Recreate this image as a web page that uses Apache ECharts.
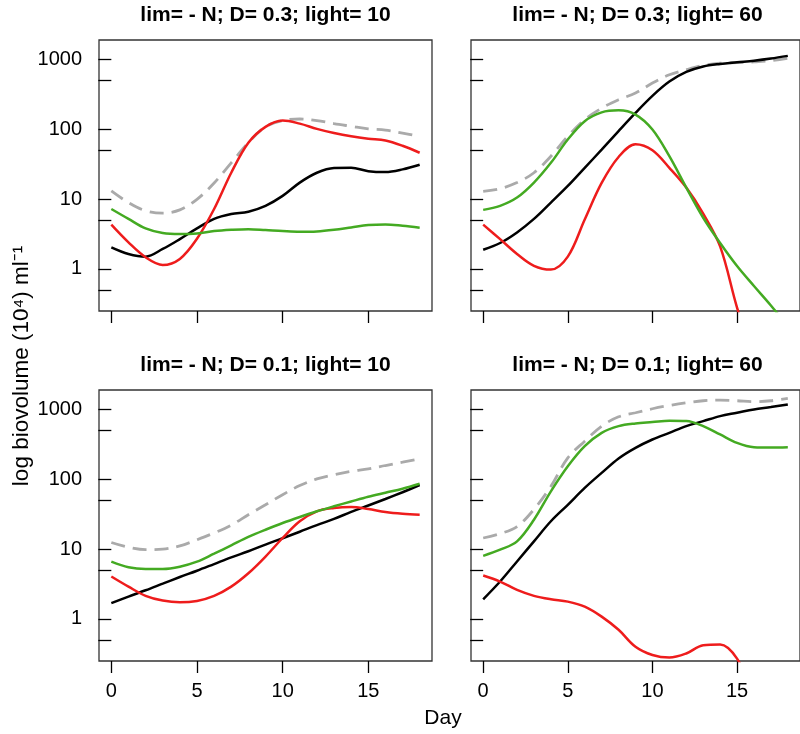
<!DOCTYPE html>
<html>
<head>
<meta charset="utf-8">
<script src="https://cdn.jsdelivr.net/npm/echarts@6/dist/echarts.min.js"></script>
<style>html,body{margin:0;padding:0;background:#fff}#c{width:800px;height:734px}</style>
</head>
<body>
<div id="c"></div>
<script>
// ---- data ----
const days = [0,1,2,3,4,5,6,7,8,9,10,11,12,13,14,15,16,17,18];
const panelTitles = [
  "lim= - N; D= 0.3; light= 10",
  "lim= - N; D= 0.3; light= 60",
  "lim= - N; D= 0.1; light= 10",
  "lim= - N; D= 0.1; light= 60"
];
const yTicks = [0.5,1,5,10,50,100,500,1000];
const yLabels = [1,10,100,1000];
const xTicks = [0,5,10,15];

// panel 1: D=0.3, light=10
const p1_total = [13.1,8.9,6.8,6.3,7.0,9.9,17,33,64,108,133,140,133,120,110,101,97,88,79];
const p1_black = [2.04,1.64,1.5,1.93,2.67,3.8,5.2,6.1,6.6,8.0,11.1,17.2,23.8,27.8,28,25.1,24.4,26.6,31];
const p1_red   = [4.3,2.4,1.47,1.14,1.39,2.7,7.2,23.8,64,108,133,120,101,88,79,73,69,58,46];
const p1_green = [7.2,5.2,3.8,3.26,3.15,3.22,3.48,3.63,3.71,3.6,3.48,3.4,3.44,3.63,3.92,4.24,4.33,4.14,3.88];
// panel 2: D=0.3, light=60
const p2_total = [12.9,14.1,17.2,23.8,41,79,137,200,264,329,457,600,710,816,879,898,918,955,1035];
const p2_black = [1.88,2.35,3.33,5.2,8.9,15.4,28,51,94,171,300,480,660,790,860,908,955,1024,1120];
const p2_red   = [4.3,2.67,1.64,1.11,0.98,1.5,5.1,17,40,61,50,28,14.6,6.2,2.1,0.28,0.05,null,null];
const p2_green = [7.0,8.0,10.5,17.2,33,71,130,174,186,162,99,41,14.6,5.4,2.35,1.1,0.57,0.30,0.15];
// panel 3: D=0.1, light=10
const p3_total = [12.4,10.6,9.8,10,11.1,13.6,17,22,31,43,60,81,101,116,130,140,157,175,195];
const p3_black = [1.68,2.09,2.57,3.2,3.98,4.9,6.1,7.6,9.3,11.6,14.3,17.7,22,27,34,42,52,65,82];
const p3_red   = [4.05,2.9,2.14,1.83,1.73,1.81,2.14,2.9,4.5,7.8,14.4,25,34.7,38.7,40,37.4,33.9,32,31];
const p3_green = [6.6,5.5,5.2,5.2,5.6,6.6,8.6,11.3,14.9,18.9,23.6,28.8,34.7,41,48,56,64,73,86];
// panel 4: D=0.1, light=60
const p4_total = [14.4,16.6,21,37,79,202,350,575,782,893,1019,1137,1242,1327,1356,1327,1285,1327,1433];
const p4_black = [1.91,3.43,6.65,12.9,25,43,75,123,198,281,370,461,575,677,800,893,997,1077,1175];
const p4_red   = [4.19,3.43,2.6,2.14,1.91,1.77,1.5,1.08,0.70,0.40,0.305,0.28,0.32,0.42,0.43,0.27,0.08,null,null];
const p4_green = [8.0,9.8,12.9,26.3,67,153,297,461,575,628,656,686,679,575,437,331,287,284,287];

const panels = [
  {total:p1_total, black:p1_black, red:p1_red, green:p1_green},
  {total:p2_total, black:p2_black, red:p2_red, green:p2_green},
  {total:p3_total, black:p3_black, red:p3_red, green:p3_green},
  {total:p4_total, black:p4_black, red:p4_red, green:p4_green}
];

// ---- layout ----
const FONT = "'Liberation Sans', Arial, sans-serif";
const gridPos = [
  {left:99, top:40, width:333, height:271},
  {left:471, top:40, width:333, height:271},
  {left:99, top:390, width:333, height:271},
  {left:471, top:390, width:333, height:271}
];
const YMIN = 0.25, YMAX = 1890, XMIN = -0.72, XMAX = 18.72;

const grids = gridPos.map(g => Object.assign({show:true, borderColor:'#333', borderWidth:1.3, backgroundColor:'transparent', containLabel:false}, g));

const xAxes = gridPos.map((g,i) => ({
  type:'value', gridIndex:i, min:XMIN, max:XMAX,
  axisLine:{show:false},
  splitLine:{show:false},
  axisTick:{show:true, inside:false, length:12, lineStyle:{color:'#000', width:1.3}, customValues:xTicks},
  axisLabel:{show:i>=2, customValues:xTicks, margin:20, color:'#000', fontSize:20, fontFamily:FONT, formatter:v=>String(Math.round(v))}
}));
const yAxes = gridPos.map((g,i) => ({
  type:'log', gridIndex:i, min:YMIN, max:YMAX, logBase:10,
  axisLine:{show:false},
  splitLine:{show:false},
  axisTick:{show:true, inside:false, length:13, lineStyle:{color:'#000', width:1.3}, customValues:yTicks},
  axisLabel:{show:i%2===0, customValues:yLabels, margin:17, color:'#000', fontSize:20, fontFamily:FONT, formatter:v=>String(Math.round(v))}
}));

function pairs(arr){ return days.map((d,k)=>[d, arr[k]]).filter(p=>p[1]!=null); }

const SM = 0.35;
const series = [];
panels.forEach((p,i)=>{
  series.push({type:'line', xAxisIndex:i, yAxisIndex:i, data:pairs(p.total), smooth:SM, showSymbol:false, clip:true, silent:true,
    lineStyle:{color:'#aaaaaa', width:2.8, type:[14,8]}});
  series.push({type:'line', xAxisIndex:i, yAxisIndex:i, data:pairs(p.black), smooth:SM, showSymbol:false, clip:true, silent:true,
    lineStyle:{color:'#000000', width:2.5}});
  series.push({type:'line', xAxisIndex:i, yAxisIndex:i, data:pairs(p.red), smooth:SM, showSymbol:false, clip:true, silent:true,
    lineStyle:{color:'#ee1c1c', width:2.5}});
  series.push({type:'line', xAxisIndex:i, yAxisIndex:i, data:pairs(p.green), smooth:SM, showSymbol:false, clip:true, silent:true,
    lineStyle:{color:'#44aa22', width:2.5}});
});

const titleCenters = [[265.5,15],[637.5,15],[265.5,365],[637.5,365]];
const graphics = panelTitles.map((t,i)=>({
  type:'text', x:titleCenters[i][0], y:titleCenters[i][1],
  style:{text:t, font:"bold 21px " + FONT, fill:'#000', textAlign:'center', textVerticalAlign:'middle'}
}));
graphics.push({type:'text', x:443, y:718, style:{text:'Day', font:"21px " + FONT, fill:'#000', textAlign:'center', textVerticalAlign:'middle'}});
graphics.push({type:'text', x:22, y:366, rotation:Math.PI/2,
  style:{text:'log biovolume (10\u2074) ml\u207B\u00B9', font:"22.5px " + FONT, fill:'#000', textAlign:'center', textVerticalAlign:'middle'}});

const chart = echarts.init(document.getElementById('c'), null, {renderer:'canvas'});
chart.setOption({
  animation:false,
  backgroundColor:'#fff',
  grid:grids, xAxis:xAxes, yAxis:yAxes, series:series, graphic:graphics
});
</script>
</body>
</html>
